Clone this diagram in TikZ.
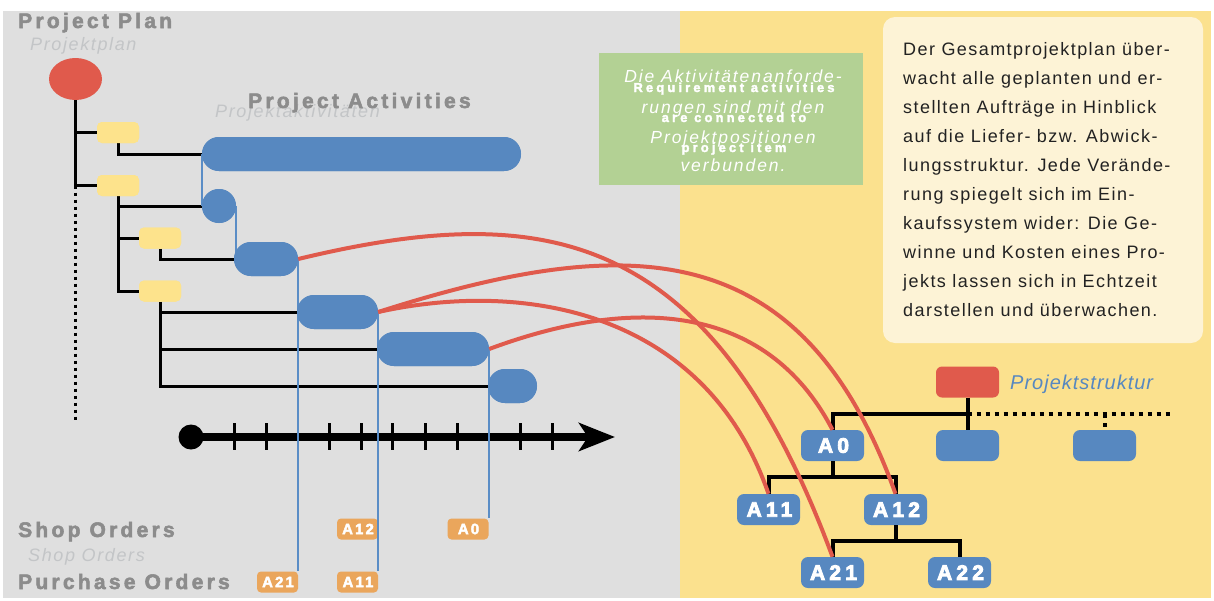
\documentclass[tikz,border=0pt]{standalone}
\usepackage{fontspec}
\setmainfont{Liberation Sans}
\usetikzlibrary{arrows.meta,shapes.geometric,calc}
\definecolor{bggray}{HTML}{DFDFDF}
\definecolor{bgyellow}{HTML}{FBE18E}
\definecolor{redc}{HTML}{E05A4C}
\definecolor{bluec}{HTML}{5788C0}
\definecolor{bluel}{HTML}{5A8DC6}
\definecolor{paley}{HTML}{FDE38C}
\definecolor{orangec}{HTML}{EAA65C}
\definecolor{greenc}{HTML}{B3D194}
\definecolor{cream}{HTML}{FDF3D6}
\definecolor{tgray}{HTML}{8C8C8C}
\definecolor{tlight}{HTML}{C3C5C7}
\definecolor{txt}{HTML}{222222}
\begin{document}
\begin{tikzpicture}[x=1pt,y=-1pt,
  bar/.style={fill=bluec, rounded corners=17pt, minimum height=34pt, inner sep=0pt},
  ybox/.style={fill=paley, rounded corners=5pt, minimum width=42pt, minimum height=21pt, inner sep=0pt},
  obox/.style={fill=orangec, rounded corners=4pt, minimum width=41pt, minimum height=21pt, inner sep=0pt, text=white, font=\fontsize{15}{15}\selectfont\bfseries\addfontfeature{LetterSpace=14,FakeBold=3}},
  tbox/.style={fill=bluec, rounded corners=7pt, minimum width=63pt, minimum height=31pt, inner sep=0pt, text=white, font=\fontsize{21}{21}\selectfont\bfseries\addfontfeature{LetterSpace=20,FakeBold=4}},
  tree/.style={line width=3pt, black},
  rtree/.style={line width=4pt, black},
  link/.style={draw=bluel, line width=2pt},
  curve/.style={draw=redc, line width=4pt},
  titleb/.style={anchor=base west, inner sep=0pt, text=tgray, font=\fontsize{21}{21}\selectfont\bfseries\addfontfeature{LetterSpace=15.5,FakeBold=2.5}},
  titlei/.style={anchor=base west, inner sep=0pt, text=tlight, font=\fontsize{18}{18}\selectfont\itshape\addfontfeature{LetterSpace=9}},
  gtexti/.style={anchor=base, inner sep=0pt, text=white, font=\fontsize{17.5}{17.5}\selectfont\itshape\addfontfeature{LetterSpace=11}},
  gtextb/.style={anchor=base, inner sep=0pt, text=white, font=\fontsize{13}{13}\selectfont\bfseries\addfontfeature{LetterSpace=24,FakeBold=2.5}},
  para/.style={anchor=base west, inner sep=0pt, text=txt, font=\fontsize{18}{18}\selectfont\addfontfeature{LetterSpace=8}}
]
\useasboundingbox (0,0) rectangle (1214,600);
\fill[white] (0,0) rectangle (1214,600);
\fill[bggray] (3,11) rectangle (680,598);
\fill[bgyellow] (680,11) rectangle (1211,598);

% titles
\node[titleb] (tPP) at (18,28) {Project Plan};
\node[titlei] (tPPd) at (30,50) {Projektplan};
\node[titlei] (tPAd) at (215,117) {Projektaktivitäten};
\node[titleb] (tPA) at (248,108) {Project Activities};
\node[titleb] (tSO) at (18,537) {Shop Orders};
\node[titlei] (tSOd) at (28,561) {Shop Orders};
\node[titleb] (tPO) at (18,589) {Purchase Orders};

% left tree nodes
\node[ellipse, fill=redc, minimum width=53pt, minimum height=42pt, inner sep=0pt] (root) at (75.5,79) {};
\node[ybox] (yb1) at (118,132.5) {};
\node[ybox] (yb2) at (118,185.5) {};
\node[ybox] (yb3) at (160,238) {};
\node[ybox] (yb4) at (160,291) {};
\node[bar, minimum width=319pt] (bar1) at (361.5,154) {};
\node[bar, minimum width=34pt] (bar2) at (219,206) {};
\node[bar, minimum width=64pt] (bar3) at (266,259) {};
\node[bar, minimum width=81pt] (bar4) at (337.5,312) {};
\node[bar, minimum width=112pt] (bar5) at (433,349) {};
\node[bar, minimum width=49pt] (bar6) at (512.5,386) {};
\coordinate (pend) at (75.5,420);

% orange order labels
\node[obox] (o12) at (357.5,529) {\kern1pt A12};
\node[obox] (o0) at (468,529) {\kern1pt A0};
\node[obox] (o21) at (277.5,582) {\kern1pt A21};
\node[obox] (o11) at (357.5,582) {\kern1pt A11};

% timeline
\node[circle, fill=black, minimum size=25pt, inner sep=0pt] (tl0) at (191,437) {};
\coordinate (tlend) at (615,437);
\draw[line width=8pt, -{Stealth[length=36pt,width=28pt,inset=9pt]}] (tl0.center) -- (tlend);
\foreach \x in {234,266,329,361,392,425,457,520,552}
  \draw[line width=3pt] (\x,423) -- (\x,450);

% black tree lines
\draw[tree] (root.south) -- (root.south |- yb2.west);
\draw[tree, dash pattern=on 3pt off 4pt] (root.south |- yb2.west) -- (pend);
\draw[tree] (root.south |- yb1.west) -- (yb1.west);
\draw[tree] (root.south |- yb2.west) -- (yb2.west);
\draw[tree] (yb1.south) |- (bar1.west);
\draw[tree] (yb2.south) |- (yb4.west);
\draw[tree] (yb2.south |- bar2.west) -- (bar2.west);
\draw[tree] (yb2.south |- yb3.west) -- (yb3.west);
\draw[tree] (yb3.south) |- (bar3.west);
\draw[tree] (yb4.south) |- (bar6.west);
\draw[tree] (yb4.south |- bar4.west) -- (bar4.west);
\draw[tree] (yb4.south |- bar5.west) -- (bar5.west);

% blue links
\draw[link] (bar1.west) -- (bar2.west);
\draw[link] (bar2.east) -- (bar2.east |- bar3.center);
\draw[link] (bar3.east) -- (bar3.east |- o21.north);
\draw[link] (bar4.east) -- (bar4.east |- o11.north);
\draw[link] (bar5.east) -- (bar5.east |- o0.north);

% redraw boxes on top of lines
\node[ybox] at (yb1) {};
\node[ybox] at (yb2) {};
\node[ybox] at (yb3) {};
\node[ybox] at (yb4) {};
\node[bar, minimum width=319pt] at (bar1) {};
\node[bar, minimum width=34pt] at (bar2) {};
\node[bar, minimum width=64pt] at (bar3) {};
\node[bar, minimum width=81pt] at (bar4) {};
\node[bar, minimum width=112pt] at (bar5) {};
\node[bar, minimum width=49pt] at (bar6) {};

% green note
\node[fill=greenc, minimum width=264pt, minimum height=132pt, inner sep=0pt] (gbox) at (731,119) {};
\node[gtexti] (g1) at (733,82) {Die Aktivitätenanforde-};
\node[gtexti] (g2) at (733,113) {rungen sind mit den};
\node[gtexti] (g3) at (733,143) {Projektpositionen};
\node[gtexti] (g4) at (733,171) {verbunden.};
\node[gtextb] (e1) at (734,92) {Requirement activities};
\node[gtextb] (e2) at (734,122) {are connected to};
\node[gtextb] (e3) at (734,152) {project item};

% text box
\node[fill=cream, rounded corners=12pt, minimum width=320pt, minimum height=326pt, inner sep=0pt] (tbx) at (1043,180) {};
\foreach \t [count=\i] in {Der Gesamtprojektplan über-, wacht alle geplanten und er-, stellten Aufträge in Hinblick, auf die Liefer- bzw. Abwick-, lungsstruktur. Jede Verände-, rung spiegelt sich im Ein-, kaufssystem wider: Die Ge-, winne und Kosten eines Pro-, jekts lassen sich in Echtzeit, darstellen und überwachen.}
  \node[para] (p\i) at (903,{55+29*(\i-1)}) {\t};

% right tree
\node[fill=redc, rounded corners=6pt, minimum width=63pt, minimum height=31pt, inner sep=0pt] (rr) at (967.5,382) {};
\node[anchor=base west, inner sep=0pt, text=bluec, font=\fontsize{20}{20}\selectfont\itshape\addfontfeature{LetterSpace=5}] (tPS) at (1010,389) {Projektstruktur};
\node[tbox] (bb2) at (967.5,445.5) {};
\node[tbox] (bb3) at (1104.5,445.5) {};
\node[tbox] (A0) at (832.5,445.5) {\kern2pt A0};
\node[tbox] (A11) at (768.5,509.5) {\kern2pt A11};
\node[tbox] (A12) at (895.5,509.5) {\kern2pt A12};
\node[tbox] (A21) at (832.5,572.5) {\kern2pt A21};
\node[tbox] (A22) at (959.5,572.5) {\kern2pt A22};
\coordinate (j0) at (967.5,414);
\coordinate (j1) at (832.5,477);
\coordinate (j2) at (895.5,541);
\coordinate (dotend) at (1172,414);
\draw[rtree] (rr.south) -- (bb2.north);
\draw[rtree] (j0) -| (A0.north);
\draw[rtree, dash pattern=on 4pt off 5pt] (j0) -- (dotend);
\draw[rtree, dash pattern=on 4pt off 5pt] (bb3.north |- j0) -- (bb3.north);
\draw[rtree] (A0.south) -- (j1);
\draw[rtree] (A11.north) |- (j1) -| (A12.north);
\draw[rtree] (A12.south) -- (j2);
\draw[rtree] (A21.north) |- (j2) -| (A22.north);

% red connections
\draw[curve] (bar3.east) .. controls (543,200) and (710,226) .. (A21.north);
\draw[curve] (bar4.east) .. controls (628,232) and (802,233) .. (A12.north);
\draw[curve] (bar4.east) .. controls (528,279) and (706,313) .. (A11.north);
\draw[curve] (bar5.east) .. controls (629,297) and (765,300) .. (A0.north);
\end{tikzpicture}
\end{document}
